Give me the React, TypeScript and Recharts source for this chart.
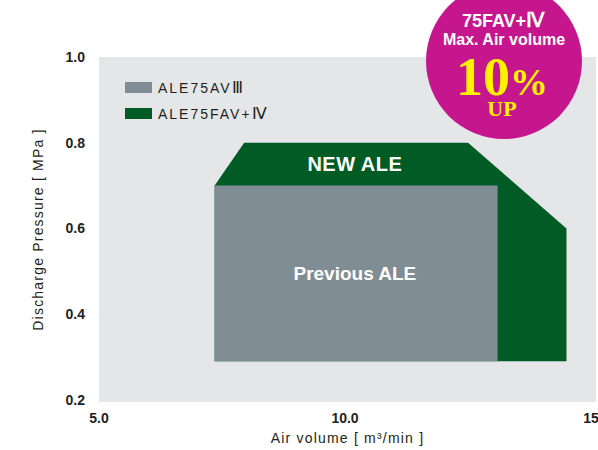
import React from 'react';
import { ComposedChart, Area, XAxis, YAxis, CartesianGrid, Legend, ReferenceDot } from 'recharts';

// axis ticks
const xTicks = [5, 10, 15];
const yTicks = [0.2, 0.4, 0.6, 0.8, 1.0];

// previous model (ALE75AV III) operating range
const prevX = [7.35, 13.1];
const prevTop = [0.7, 0.7];
// new model (ALE75FAV+ IV) operating range
const newX = [7.35, 7.95, 12.5, 14.5];
const newTop = [0.7, 0.8, 0.8, 0.6];
const floorPressure = 0.29;

const seriesNames = ['ALE75AVⅢ', 'ALE75FAV+Ⅳ'];
const seriesColors = ['#818d94', '#005b25'];

const prevData = prevX.map((x, i) => ({ x, range: [floorPressure, prevTop[i]] }));
const newData = newX.map((x, i) => ({ x, range: [floorPressure, newTop[i]] }));

const SANS = '"Liberation Sans", Arial, sans-serif';
const SERIF = '"Liberation Serif", "Times New Roman", serif';
const DARK = '#231f20';

// roman numeral at the end of a model name is drawn in a serif face, like the original
const renderLegend = () => (
    <div style={{ fontFamily: SANS }}>
        {seriesNames.map((name, i) => (
            <div key={name} style={{ display: 'flex', alignItems: 'center', height: 26 }}>
                <div style={{ width: 27, height: 11, background: seriesColors[i], marginRight: 6 }} />
                <span style={{ fontSize: 14, letterSpacing: 2, color: DARK }}>
                    {name.slice(0, -1)}
                    <span style={{ fontFamily: SERIF, fontSize: 16 }}>{name.slice(-1)}</span>
                </span>
            </div>
        ))}
    </div>
);

const YTitle = (props: any) => {
    const { viewBox } = props;
    const cx = viewBox.x + 38;
    const cy = viewBox.y + viewBox.height / 2;
    return (
        <text
            x={cx}
            y={cy}
            transform={`rotate(-90 ${cx} ${cy})`}
            textAnchor="middle"
            dominantBaseline="central"
            fontFamily={SANS}
            fontSize={14}
            letterSpacing={1.2}
            fill={DARK}
        >
            Discharge Pressure [ MPa ]
        </text>
    );
};

const Badge = () => (
    <svg width={598} height={450} style={{ position: 'absolute', left: 0, top: 0, pointerEvents: 'none' }}>
        <circle cx={504} cy={61} r={78} fill="#c6168d" />
        <text x={503} y={27} textAnchor="middle" fontFamily={SANS} fontWeight={700} fontSize={18} fill="#fff">
            75FAV+<tspan fontFamily={SERIF} fontSize={20}>Ⅳ</tspan>
        </text>
        <text x={504} y={45} textAnchor="middle" fontFamily={SANS} fontWeight={700} fontSize={16} fill="#fff">
            Max. Air volume
        </text>
        <text x={502} y={95} textAnchor="middle" fontFamily={SERIF} fontWeight={700} fill="#fff200">
            <tspan fontSize={54}>10</tspan>
            <tspan fontSize={38}>%</tspan>
        </text>
        <text x={502} y={116} textAnchor="middle" fontFamily={SERIF} fontWeight={700} fontSize={22} fill="#fff200">
            UP
        </text>
    </svg>
);

export default function App() {
    return (
        <div style={{ position: 'absolute', left: 0, top: 0, width: 598, height: 450, background: '#fff' }}>
            <ComposedChart width={598} height={450} margin={{ top: 57, right: 2, left: 0, bottom: 0 }}>
                <CartesianGrid horizontal={false} vertical={false} fill="#e5e6e8" stroke="none" />
                <XAxis
                    type="number"
                    dataKey="x"
                    domain={[5, 15.1]}
                    ticks={xTicks}
                    tickFormatter={(v) => (v === 15 ? '15' : v.toFixed(1))}
                    axisLine={false}
                    tickLine={false}
                    tickSize={6}
                    tickMargin={5}
                    height={48}
                    tick={{ fontFamily: SANS, fontSize: 14, fontWeight: 700, fill: DARK }}
                    label={{
                        value: 'Air volume [ m³/min ]',
                        position: 'insideBottom',
                        offset: 7,
                        fontFamily: SANS,
                        fontSize: 14,
                        letterSpacing: 1.2,
                        fill: DARK,
                    }}
                />
                <YAxis
                    type="number"
                    domain={[0.195, 1.0]}
                    ticks={yTicks}
                    tickFormatter={(v) => v.toFixed(1)}
                    axisLine={false}
                    tickLine={false}
                    tickSize={6}
                    tickMargin={8}
                    width={99}
                    tick={{ fontFamily: SANS, fontSize: 14, fontWeight: 700, fill: DARK }}
                    label={{ content: <YTitle /> }}
                />
                <Legend
                    content={renderLegend}
                    layout="vertical"
                    align="center"
                    verticalAlign="middle"
                    wrapperStyle={{ left: 125, top: 74, width: 200, height: 52 }}
                />
                <Area
                    data={newData}
                    dataKey="range"
                    name={seriesNames[1]}
                    type="linear"
                    fill={seriesColors[1]}
                    fillOpacity={1}
                    stroke="none"
                    isAnimationActive={false}
                />
                <Area
                    data={prevData}
                    dataKey="range"
                    name={seriesNames[0]}
                    type="linear"
                    fill={seriesColors[0]}
                    fillOpacity={1}
                    stroke="none"
                    isAnimationActive={false}
                />
                <ReferenceDot
                    x={10.2}
                    y={0.75}
                    r={0}
                    fill="none"
                    stroke="none"
                    label={{ value: 'NEW ALE', position: 'center', fill: '#fff', fontFamily: SANS, fontWeight: 700, fontSize: 20, letterSpacing: 0.5 }}
                />
                <ReferenceDot
                    x={10.2}
                    y={0.495}
                    r={0}
                    fill="none"
                    stroke="none"
                    label={{ value: 'Previous ALE', position: 'center', fill: '#fff', fontFamily: SANS, fontWeight: 700, fontSize: 19 }}
                />
            </ComposedChart>
            <Badge />
        </div>
    );
}
